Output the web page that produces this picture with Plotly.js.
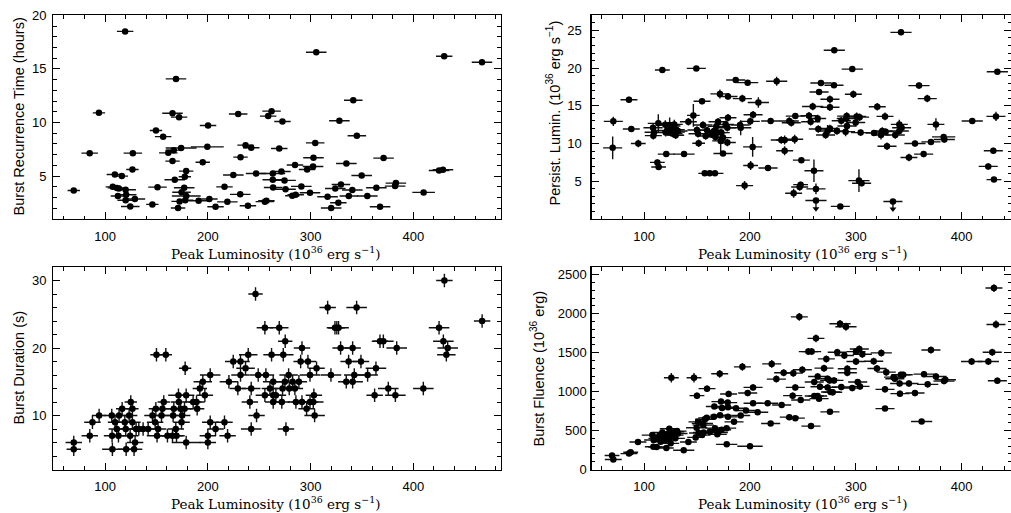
<!DOCTYPE html>
<html><head><meta charset="utf-8">
<script src="https://cdn.plot.ly/plotly-3.0.1.min.js"></script>
<style>html,body{margin:0;padding:0;background:#fff}#chart{width:1011px;height:513px}</style>
</head><body><div id="chart"></div>
<script>
// ---------- Panel 1: Burst recurrence time vs peak luminosity ----------
const tlX = [69.5,119.5,85,94,109.5,116.3,107.5,111.5,113.5,120,
 112.5,120.5,120,124.5,129,126.6,127,149.5,156.5,151,
 146,165.6,172,169,161.5,166.8,174,165.6,167.8,177.6,
 178.9,177,174.4,179,178,172.5,171,191,201.5,207.5,
 200.2,199.5,195,216.2,219,224.8,229.5,231.8,231.5,236.7,
 242.2,239,247,255.5,257,258.7,262,263.2,263.2,263.5,
 269.5,272.6,271.6,274.6,275.6,284.8,282.2,285.5,291,296.6,
 302.4,302.8,304.5,305.5,299.4,316.5,324,327,320,328,
 329.5,334.8,337.2,341.5,340.6,345,349.7,355.2,364,367.6,
 371,382.2,383,410,425,428.8,430,466.8];
const tlY = [3.66,18.5,7.14,10.9,5.15,5.0,4.0,3.9,3.85,3.73,
 3.14,3.26,2.75,2.17,2.86,5.62,7.14,9.25,8.68,3.97,
 2.36,10.87,10.5,14.07,7.17,7.42,7.62,6.4,4.66,4.94,
 5.47,3.91,3.5,3.14,2.76,2.64,2.02,2.7,2.86,2.14,
 9.72,7.73,6.3,4.0,2.6,5.1,10.8,6.77,3.3,7.89,
 7.64,2.24,5.25,2.62,2.7,10.6,11.06,5.25,4.66,3.94,
 7.58,10.09,5.43,4.6,3.78,6.03,3.17,3.26,4.04,5.62,
 5.9,6.71,8.1,16.55,3.45,3.07,3.85,2.52,2.02,10.16,
 4.22,6.18,3.14,12.08,3.7,8.76,5.06,3.14,3.91,2.14,
 6.68,4.07,4.35,3.48,5.53,5.59,16.18,15.62];
const tlXErr = [6,8,8,6,8,6,7,9,8,10,
 7,10,8,9,10,6,9,6,8,9,
 6,10,8,10,9,8,15,7,10,6,
 7,10,9,14,8,8,7,10,8,8,
 8,16,7,8,10,10,9,7,10,8,
 8,8,10,9,8,8,9,12,10,9,
 8,8,9,11,10,8,7,8,10,8,
 10,10,9,10,10,10,10,8,10,10,
 9,10,9,9,10,9,10,10,10,10,
 10,10,10,11,10,10,8,10];

// ---------- Panel 2: Persistent luminosity vs peak luminosity ----------
const trX = [71,70.4,85.8,88,94.6,108.5,109.5,108.8,113.5,117.3,
 112.6,113.8,121,120.1,120.5,124.2,125.2,126.4,128.6,129.6,
 130.5,132.1,129.9,127.4,122,137.8,141.9,146.6,149.4,154.8,
 155.7,150,151.6,151,159.5,157.3,162,167,158.2,163.6,
 166.1,168.3,167.4,169.9,169.6,172.4,173,174.6,174.6,177.1,
 178.7,178.7,179.3,171.7,179.3,186.6,197.9,192.9,190.7,191.3,
 200.4,203,208,202.6,200.7,195,219.6,217.1,225.3,229.7,
 232.8,232.8,237.2,239.1,242.3,242.9,241.3,247,247.9,248.6,
 255.8,257.4,259.3,265.3,267.1,264,260.5,262.4,264.6,273.4,
 271.5,275.6,275.6,275.6,279.4,279.7,282.2,286.3,291.4,291,
 290.4,291.7,296.7,297.7,299.9,300.8,303.6,304.6,303,305.5,
 285.4,317.2,320.3,323.8,325,327.6,328.2,329.5,337.3,341.1,
 341.1,343.3,342.7,350.2,355.9,364.1,359.7,367.5,375.7,371,
 383,383.6,410,429.9,425.1,430.5,432.4,433.7];
const trY = [12.94,9.43,15.8,11.93,10.0,12.1,11.5,11.05,12.68,19.74,
 7.5,6.89,8.6,12.5,11.45,12.46,11.58,12.32,12.54,11.54,
 11.84,11.67,11.1,11.3,11.75,8.6,12.9,13.73,19.96,15.6,
 12.46,11.8,10.04,11.3,11.75,6.05,6.05,6.05,11.0,11.23,
 11.67,12.28,10.88,12.9,11.45,10.35,11.45,8.68,10.79,12.54,
 12.1,10.13,13.42,16.58,16.23,18.42,18.07,15.96,12.46,12.1,
 12.94,13.82,15.44,9.56,7.1,4.43,12.98,6.75,18.25,10.48,
 10.48,9.04,12.98,12.76,10.57,13.64,3.42,4.25,4.55,7.8,
 13.68,12.9,14.91,16.84,18.03,13.33,6.4,3.99,11.93,11.67,
 11.14,12.0,15.88,14.82,17.72,22.37,11.67,13.03,13.64,13.33,
 11.58,12.32,19.87,16.54,12.8,13.6,13.5,11.45,5.09,4.74,
 1.67,11.4,14.87,11.14,11.67,13.6,11.58,9.65,11.14,11.67,
 12.54,12.1,24.74,8.16,10.0,8.6,17.68,15.96,12.54,10.22,
 10.88,10.53,12.98,9.04,6.97,5.22,13.6,19.52];
const trXErr = [9,9,8,8,7,9,9,8,10,7,
 7,7,8,8,8,9,8,8,8,9,
 8,9,8,9,10,10,8,6,9,8,
 9,9,6,9,8,6,6,8,8,8,
 8,8,8,9,8,8,8,9,8,8,
 8,8,8,9,9,9,10,9,9,10,
 9,9,10,9,7,8,9,9,10,10,
 8,8,9,9,8,9,8,8,7,8,
 8,9,10,9,10,8,9,9,9,9,
 9,9,9,9,9,10,9,9,9,9,
 9,9,10,8,9,9,9,9,10,9,
 9,8,8,8,9,8,8,9,9,9,
 8,9,10,8,10,9,10,9,8,9,
 11,10,10,9,9,7,9,10];
const trYErr = [0.6,1.5,0.4,0.4,0.5,0.5,0.5,0.5,1.2,0.4,
 0.4,0.4,0.3,0.6,0.5,1.0,0.6,0.5,0.6,0.6,
 0.5,0.5,0.5,0.5,0.5,0.3,0.5,1.5,0.3,0.4,
 0.5,0.5,0.5,0.5,0.5,0.3,0.3,0.3,0.5,0.5,
 0.5,0.5,0.5,0.5,0.5,1.5,0.5,0.3,0.8,0.5,
 0.5,0.5,0.5,0.6,0.4,0.3,0.3,0.5,0.5,1.0,
 0.5,0.5,0.7,1.3,0.6,0.6,0.4,0.4,0.6,0.5,
 0.6,0.6,0.5,0.5,0.6,0.4,0.6,0.5,0.4,0.3,
 0.5,0.5,0.5,0.4,0.3,0.5,1.5,0.7,0.5,0.8,
 0.5,0.5,0.5,0.5,0.3,0.3,0.5,0.5,0.5,0.5,
 0.6,0.8,0.3,0.5,0.5,0.5,0.5,0.4,1.5,0.4,
 0.2,0.4,0.5,0.6,0.5,0.5,0.4,0.5,0.5,0.5,
 0.6,0.4,0.4,0.5,0.4,0.4,0.4,0.5,0.8,0.4,
 0.4,0.4,0.4,0.4,0.4,0.3,0.6,0.3];
// upper limits (arrows)
const trLimX = [262.4,335.1];
const trLimY = [2.46,2.32];
const trLimXErr = [10,9];
const trLimDrop = [1.1,1.0];

// ---------- Panel 3: Burst duration vs peak luminosity ----------
const blX = [69.5,69.5,85.1,87.7,94.2,106.5,106.8,107.1,109.7,111.4,
 113,113.6,116.6,119.2,120.1,120.5,123.4,125,126.6,124.4,
 126.6,128.2,129.2,130.2,132.8,137,141.9,146.1,148.7,149.4,
 150.6,151.6,150,159.1,154.9,157.1,155.8,160.7,165.6,166.9,
 168.8,166.2,169.5,171.4,171.8,175,174.4,173.4,177.3,178.9,
 177.9,178.9,185.7,189,189.6,192.2,195.1,197.1,200,200,
 202.3,202.3,207.5,216.2,219.2,220.5,224.7,229.2,231.8,231.8,
 236.7,239.3,242.2,240.9,242.2,247.4,249,256.5,255.5,246.4,
 255.5,262,269.5,275.3,273.4,291.6,290.3,297.4,305.8,299.4,
 319.8,278.6,263.6,275,282.5,288.6,272.7,279.2,284.7,260.4,
 263.6,266.2,303.2,263.6,272,285.7,291.6,299.4,302.6,296.1,
 303.9,276,316.6,344.8,323.7,325.5,327.2,329.2,340.9,337,
 349,363.6,334.7,340.9,342.5,355.5,375.6,362.3,382.5,409.7,
 367.5,370.8,383.8,430.2,425,429.2,433.4,432.1,466.9];
const blY = [6,5,7,9,10,10,7,5,9,8,
 7,10,11,9,8,5,10,12,11,7,
 9,5,6,8,8,8,8,10,9,11,
 7,8,19,19,10,12,11,7,7,11,
 8,10,7,13,12,10,9,11,11,13,
 17,6,12,12,11,14,15,13,6,7,
 16,9,8,9,7,15,18,14,18,16,
 17,19,14,12,8,10,16,16,13,28,
 23,19,23,21,19,20,18,18,17,16,
 16,16,15,15,15,15,14,14,14,14,
 13,13,13,12,12,12,12,12,12,11,
 10,8,26,26,23,23,23,20,20,18,
 18,17,15,15,16,16,14,13,13,14,
 21,21,20,30,23,21,20,19,24];
const blXErr = [8,7,8,8,7,8,8,10,7,8,
 8,8,6,8,8,8,8,6,6,8,
 8,8,8,8,8,8,8,8,8,7,
 10,8,6,6,8,6,9,8,10,9,
 8,10,8,10,8,8,8,10,8,8,
 6,14,8,8,7,7,9,8,8,8,
 10,8,8,8,8,9,8,8,9,9,
 9,9,9,8,10,8,8,8,9,7,
 8,8,9,7,10,8,7,8,8,10,
 10,9,10,10,8,8,10,8,8,8,
 8,10,8,8,8,8,10,8,10,8,
 10,8,8,10,8,8,10,8,8,8,
 8,10,8,10,10,10,10,8,10,10,
 8,10,10,8,10,10,10,9,8];
const blYErr = [1,1,1,1,1,1,1,1,1,1,
 1,1,1,1,1,1,1,1,1,1,
 1,1,1,1,1,1,1,1,1,1,
 1,1,1,1,1,1,1,1,1,1,
 1,1,1,1,1,1,1,1,1,1,
 1,1,1,1,1,1,1,1,1,1,
 1,1,1,1,1,1,1,1,1,1,
 1,1,1,1,1,1,1,1,1,1,
 1,1,1,1,1,1,1,1,1,1,
 1,1,1,1,1,1,1,1,1,1,
 1,1,1,1,1,1,1,1,1,1,
 1,1,1,1,1,1,1,1,1,1,
 1,1,1,1,1,1,1,1,1,1,
 1,1,1,1,1,1,1,1,1];

// ---------- Panel 4: Burst fluence vs peak luminosity ----------
const brX = [69.8,71,85.8,87.4,94.3,107.9,109.1,108.8,112,114.8,
 115.7,117.3,117.9,120.1,121.4,123.9,124.9,125.2,128.3,129,
 129.6,131.2,132.1,121.1,123.9,113.2,125.8,141.9,137.5,147.2,
 149.7,151.6,154.8,156.3,151,155.1,157.3,156,148.8,159.2,
 150,159.5,162.3,167,170.2,173.3,178,169.2,166.1,171.8,
 166.4,173.7,179.3,179.3,185,172.7,171.5,179.9,179,178.1,
 186.9,191.3,196.3,192.9,197.9,203,200.1,203,207.3,216.8,
 219.6,220.6,225,231.9,230,237.2,240.4,241,242.9,242.9,
 246.7,248,249.5,257.7,255.2,258.3,260.8,264,262.4,260.8,
 264,265.3,266.2,270,272.2,273.4,273.4,275.3,279.4,275.6,
 276.2,278.2,282.5,285.1,286.3,289.2,290.7,292,292,296.7,
 300.2,300.2,303.3,306.2,301.8,304,316.9,320,324.1,328.8,
 327.6,327.6,335.7,336.9,342.6,344.8,341.4,341.7,350.2,355.9,
 364.4,371,362.2,367.9,375.7,383.3,384.6,409.4,425.2,428.9,
 430.5,432.4,433.7];
const brY = [179,128,204,221,353,442,378,293,289,442,
 357,476,425,378,442,523,442,336,442,485,
 400,493,463,276,400,400,1178,353,247,1178,
 536,468,442,476,612,591,646,570,412,663,
 948,1038,489,531,476,510,531,451,676,697,
 808,791,799,676,612,872,1229,970,859,323,
 787,693,757,1318,982,1054,298,850,736,850,
 591,1356,1161,1242,829,672,948,1237,1054,659,
 1960,893,1280,557,1514,1514,1123,1195,1684,944,
 944,910,1063,1301,1420,1054,1165,1144,1144,740,
 995,991,1505,1871,1059,1463,1833,1293,1242,1046,
 1386,1514,1548,1480,1123,1067,1390,1297,1497,1250,
 1029,782,1186,1165,1216,1216,1105,974,1105,982,
 1224,1535,617,1093,1195,1135,1152,1386,1386,1505,
 2330,1862,1140];
const brXErr = [7,8,8,7,8,10,9,8,8,8,
 9,9,10,9,9,9,9,8,9,9,
 9,9,9,7,9,9,7,8,10,7,
 10,9,8,10,9,10,9,10,8,8,
 7,8,9,9,9,9,9,9,8,9,
 8,9,9,9,9,9,8,8,9,10,
 9,9,9,8,9,9,12,9,10,10,
 9,9,9,9,9,9,9,9,9,9,
 8,9,9,9,9,9,9,9,8,9,
 9,9,9,9,8,9,9,9,9,9,
 9,9,9,10,9,9,10,9,9,9,
 9,9,9,9,9,9,9,9,10,9,
 9,9,9,9,9,9,9,9,9,9,
 10,9,10,10,10,10,10,10,10,9,
 8,9,9];
const brYErr = [20,20,20,20,20,25,25,20,20,25,
 25,25,25,25,25,25,25,25,25,25,
 25,25,25,20,25,25,60,25,20,60,
 25,25,25,25,30,30,30,30,25,30,
 40,40,25,25,25,25,25,25,30,30,
 30,30,30,30,30,35,50,40,35,20,
 30,30,30,50,40,40,20,35,30,35,
 30,50,45,45,35,30,40,45,40,30,
 50,35,45,30,45,45,40,40,50,35,
 35,35,40,45,45,40,40,40,40,30,
 40,40,45,50,40,45,50,45,45,40,
 45,45,45,45,40,40,45,45,45,45,
 40,30,40,40,40,40,40,40,40,40,
 40,45,30,40,40,40,40,45,45,45,
 50,50,40];

// ---------- layout geometry (pixels of the 1011x513 page) ----------
const W = 1011, H = 513;
const px = p => p / W, py = p => 1 - p / H;
const leftDom = [px(53.3), px(500.5)], rightDom = [px(591.5), 1];
const topDom = [py(219), py(15.3)], botDom = [py(469.5), py(267)];

const dot = {color: '#000', size: 6.5, line: {width: 0}};
const err = arr => ({type: 'data', array: arr, thickness: 1.4, width: 0, color: '#111'});
const base = {type: 'scatter', mode: 'markers', marker: dot, hoverinfo: 'skip', showlegend: false};

const traces = [
  Object.assign({}, base, {x: tlX, y: tlY, xaxis: 'x', yaxis: 'y', error_x: err(tlXErr)}),
  Object.assign({}, base, {x: trX, y: trY, xaxis: 'x2', yaxis: 'y2', error_x: err(trXErr), error_y: err(trYErr)}),
  Object.assign({}, base, {x: trLimX, y: trLimY, xaxis: 'x2', yaxis: 'y2', error_x: err(trLimXErr),
    error_y: {type: 'data', symmetric: false, array: [0, 0], arrayminus: trLimDrop, thickness: 1.4, width: 0, color: '#111'}}),
  Object.assign({}, base, {x: trLimX, y: trLimY.map((v, i) => v - trLimDrop[i]), xaxis: 'x2', yaxis: 'y2',
    marker: {color: '#000', size: 6, symbol: 'triangle-down'}}),
  Object.assign({}, base, {x: blX, y: blY, xaxis: 'x3', yaxis: 'y3', error_x: err(blXErr), error_y: err(blYErr)}),
  Object.assign({}, base, {x: brX, y: brY, xaxis: 'x4', yaxis: 'y4', error_x: err(brXErr), error_y: err(brYErr)})
];

const tickFont = {family: 'Liberation Sans, Arial, sans-serif', size: 13, color: '#000'};
function ax(o) {
  return Object.assign({
    showline: true, linecolor: '#000', linewidth: 1.2, mirror: 'ticks',
    ticks: 'inside', ticklen: 7, tickwidth: 1, tickcolor: '#000',
    showgrid: false, zeroline: false, tickfont: tickFont, fixedrange: true
  }, o);
}
const minorX = {ticks: 'inside', ticklen: 3.5, tickwidth: 1, tickcolor: '#000', dtick: 20, showgrid: false};
const xL = {range: [49.6, 484.8], tick0: 0, dtick: 100, minor: minorX, domain: leftDom, ticklabelstandoff: 5};
const xR = {range: [50.4, 446.6], tick0: 0, dtick: 100, minor: minorX, domain: rightDom, ticklabelstandoff: 5};

const layout = {
  width: W, height: H, margin: {l: 0, r: 0, t: 0, b: 0},
  paper_bgcolor: '#fff', plot_bgcolor: '#fff', showlegend: false,
  xaxis: ax(Object.assign({}, xL, {anchor: 'y'})),
  yaxis: ax({domain: topDom, anchor: 'x', range: [1, 20], tick0: 0, dtick: 5, ticklabelstandoff: 3,
    minor: {ticks: 'inside', ticklen: 3.5, tickcolor: '#000', dtick: 1}}),
  xaxis2: ax(Object.assign({}, xR, {anchor: 'y2'})),
  yaxis2: ax({domain: topDom, anchor: 'x2', range: [0, 27], tickvals: [5, 10, 15, 20, 25], ticklabelstandoff: 6,
    minor: {ticks: 'inside', ticklen: 3.5, tickcolor: '#000', dtick: 1, tick0: 0}}),
  xaxis3: ax(Object.assign({}, xL, {anchor: 'y3'})),
  yaxis3: ax({domain: botDom, anchor: 'x3', range: [2, 32], tick0: 0, dtick: 10, ticklabelstandoff: 3,
    minor: {ticks: 'inside', ticklen: 3.5, tickcolor: '#000', dtick: 2}}),
  xaxis4: ax(Object.assign({}, xR, {anchor: 'y4'})),
  yaxis4: ax({domain: botDom, anchor: 'x4', range: [0, 2600], tick0: 0, dtick: 500, ticklabelstandoff: 1,
    minor: {ticks: 'inside', ticklen: 3.5, tickcolor: '#000', dtick: 100}}),
  annotations: []
};

const xTitle = 'Peak Luminosity (10<sup>36</sup> erg s<sup>−1</sup>)';
const serif = {family: 'DejaVu Serif, Liberation Serif, serif', size: 13.5, color: '#000'};
const sans = {family: 'Liberation Sans, Arial, sans-serif', size: 14.5, color: '#000'};
function note(text, x, y, font, angle) {
  layout.annotations.push({text, xref: 'paper', yref: 'paper', x: px(x), y: py(y),
    xanchor: 'center', yanchor: 'middle', showarrow: false, font, textangle: angle || 0});
}
note(xTitle, 275, 252.5, serif);
note(xTitle, 802, 252.5, serif);
note(xTitle, 275, 502.5, serif);
note(xTitle, 802, 502.5, serif);
note('Burst Recurrence Time (hours)', 18.5, 117, sans, -90);
note('Persist. Lumin. (10<sup>36</sup> erg s<sup>−1</sup>)', 553.5, 113, sans, -90);
note('Burst Duration (s)', 18.5, 368, sans, -90);
note('Burst Fluence (10<sup>36</sup> erg)', 537.5, 369, sans, -90);

Plotly.newPlot('chart', traces, layout, {staticPlot: true, displayModeBar: false});
</script>
</body></html>
